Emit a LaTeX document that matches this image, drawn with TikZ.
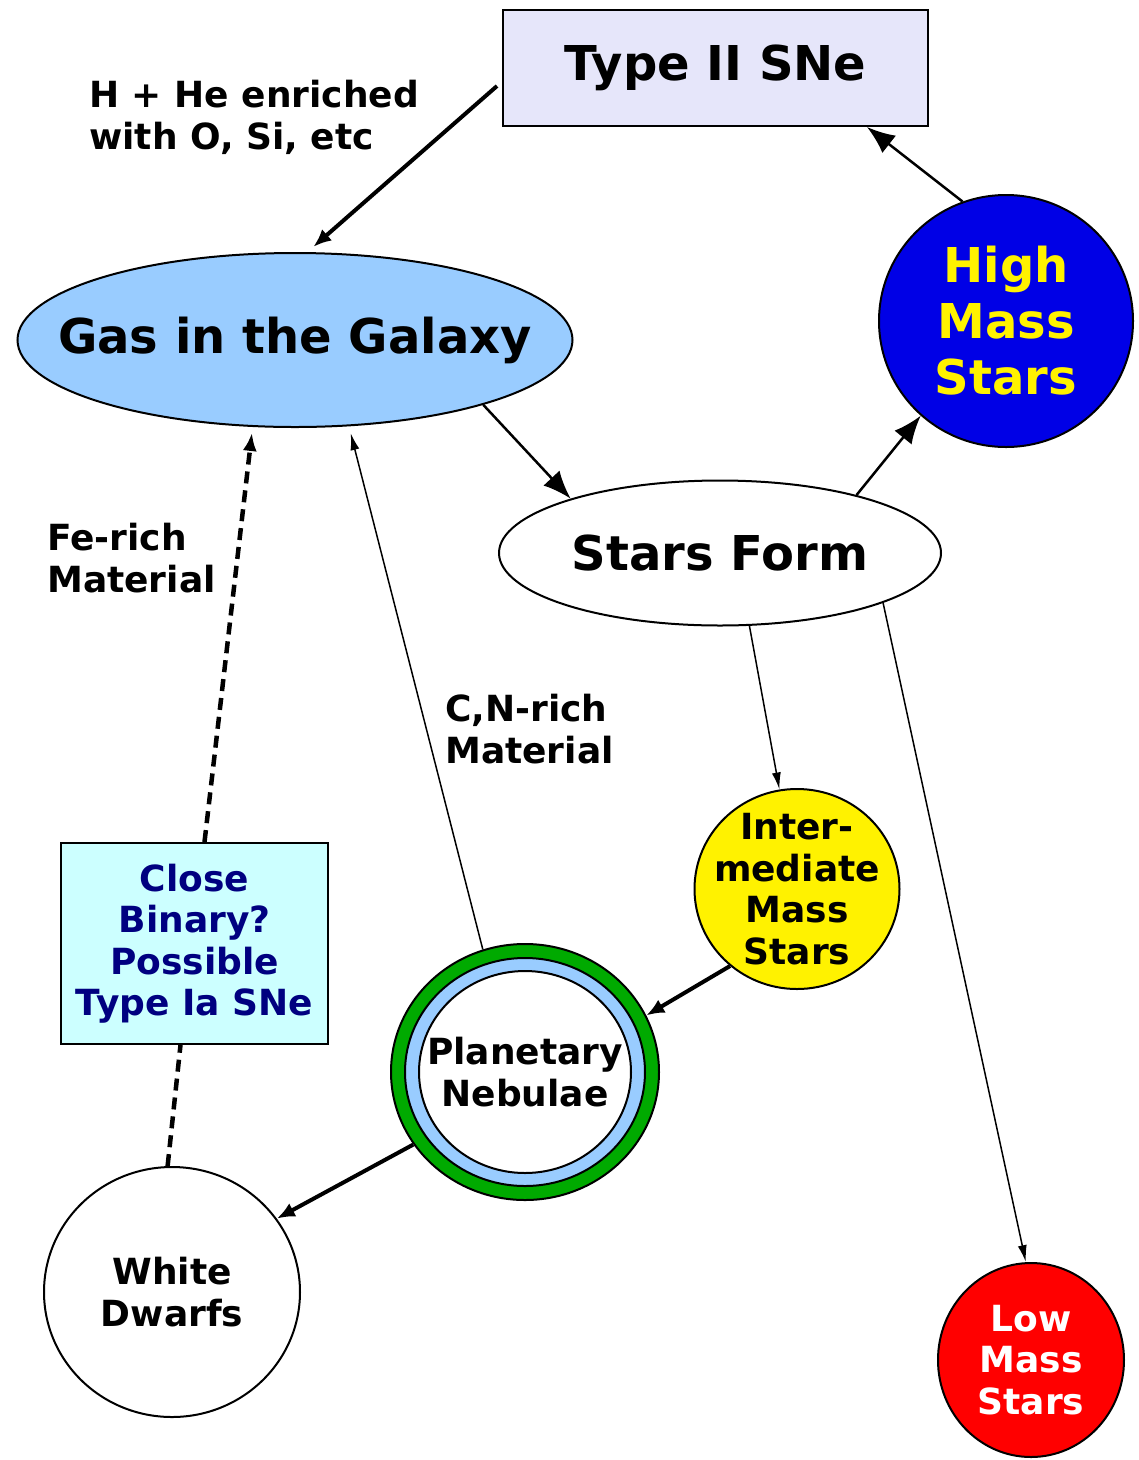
\documentclass[tikz,border=0pt]{standalone}
\usepackage{fontspec}
\setmainfont{DejaVu Sans}
\usetikzlibrary{shapes.geometric,arrows.meta}

\definecolor{typebox}{HTML}{E6E6FA}
\definecolor{gasblue}{HTML}{99CCFF}
\definecolor{hiblue}{HTML}{0000E6}
\definecolor{binbox}{HTML}{CCFFFF}
\definecolor{binnavy}{HTML}{000080}
\definecolor{pngreen}{HTML}{00AA00}

\begin{document}
\begin{tikzpicture}[x=1pt,y=-1pt,
    bigtxt/.style={font=\bfseries\fontsize{48}{56}\selectfont, align=center, inner sep=0pt},
    smalltxt/.style={font=\bfseries\fontsize{36}{41.5}\selectfont, align=center, inner sep=0pt},
    orb/.style={ellipse, draw=black, line width=2pt, inner sep=0pt},
    thickarr/.style={line width=4pt, -{Latex[length=18pt,width=15pt]}},
    midarr/.style={line width=2.5pt, -{Latex[length=28pt,width=22pt]}},
    thinarr/.style={line width=1.5pt, -{Latex[length=17pt,width=9pt]}},
    dashline/.style={line width=4.5pt, dash pattern=on 12pt off 7pt}]
  \useasboundingbox (0,0) rectangle (1139,1460);
  % boxes
  \node[draw, line width=2pt, fill=typebox, minimum width=425pt, minimum height=116pt, bigtxt] (type) at (715.5,68) {Type II SNe};
  \node[draw, line width=2pt, fill=binbox, minimum width=267pt, minimum height=201pt, smalltxt, text=binnavy] (bin) at (194.5,943.5) {Close\\Binary?\\Possible\\Type Ia SNe};
  % gas, star forming and the stars
  \node[orb, fill=gasblue, minimum width=555pt, minimum height=174pt] (gas) at (295,340) {};
  \node[bigtxt] (gastxt) at (gas) {Gas in the Galaxy};
  \node[orb, fill=white, minimum width=442pt, minimum height=145pt] (form) at (720,553) {};
  \node[bigtxt] (formtxt) at (form) {Stars Form};
  \node[orb, fill=hiblue, minimum width=254pt, minimum height=252pt] (high) at (1006,321) {};
  \node[bigtxt, text=yellow] (hightxt) at (high) {High\\Mass\\Stars};
  \node[orb, fill=yellow, minimum width=205pt, minimum height=200pt] (inter) at (797,889) {};
  \node[smalltxt] (intertxt) at (inter) {Inter-\\mediate\\Mass\\Stars};
  \node[orb, fill=red, minimum width=186pt, minimum height=194pt] (low) at (1031,1360) {};
  \node[smalltxt, text=white] (lowtxt) at (low) {Low\\Mass\\Stars};
  \node[orb, fill=white, minimum width=256pt, minimum height=250pt] (dwarf) at (172,1292) {};
  \node[smalltxt] (dwarftxt) at (dwarf) {White\\Dwarfs};
  % planetary nebula: green shell, blue shell, white core
  \node[orb, fill=pngreen, minimum width=268pt, minimum height=256pt] (pn) at (525,1072) {};
  \draw[line width=2pt, fill=gasblue] (pn.center) ellipse (120pt and 114pt);
  \draw[line width=2pt, fill=white] (pn.center) ellipse (106pt and 101pt);
  \node[smalltxt] (pntxt) at (pn) {Planetary\\Nebulae};
  % material labels
  \node[smalltxt, align=left, anchor=north west] (snlbl) at (89,80) {H + He enriched\\with O, Si, etc};
  \node[smalltxt, align=left, anchor=north west] (felbl) at (47,523) {Fe-rich\\Material};
  \node[smalltxt, align=left, anchor=north west] (cnlbl) at (445,694) {C,N-rich\\Material};
  % connectors
  \draw[thickarr, shorten >=8pt] ([xshift=-5pt,yshift=-18pt]type.west) -- (gas.82);
  \draw[midarr] (high.110) -- ([xshift=-62pt]type.south east);
  \draw[midarr] (gas.-19) -- (form.160);
  \draw[midarr] (form.23) -- (high.-132);
  \draw[thinarr] (form.-68) -- (inter.100);
  \draw[thinarr] (form.-17) -- (low.93);
  \draw[thickarr] (inter.-131) -- (pn.25);
  \draw[thickarr] (pn.-147) -- (dwarf.35);
  \draw[thinarr, shorten >=7pt] (pn.109) -- (gas.-58);
  \draw[dashline, -{Latex[length=18pt,width=14pt]}, shorten >=6pt] ([xshift=10pt]bin.north) -- (gas.-116);
  \draw[dashline] (dwarf.92) -- ([xshift=-14pt]bin.south);
\end{tikzpicture}
\end{document}
